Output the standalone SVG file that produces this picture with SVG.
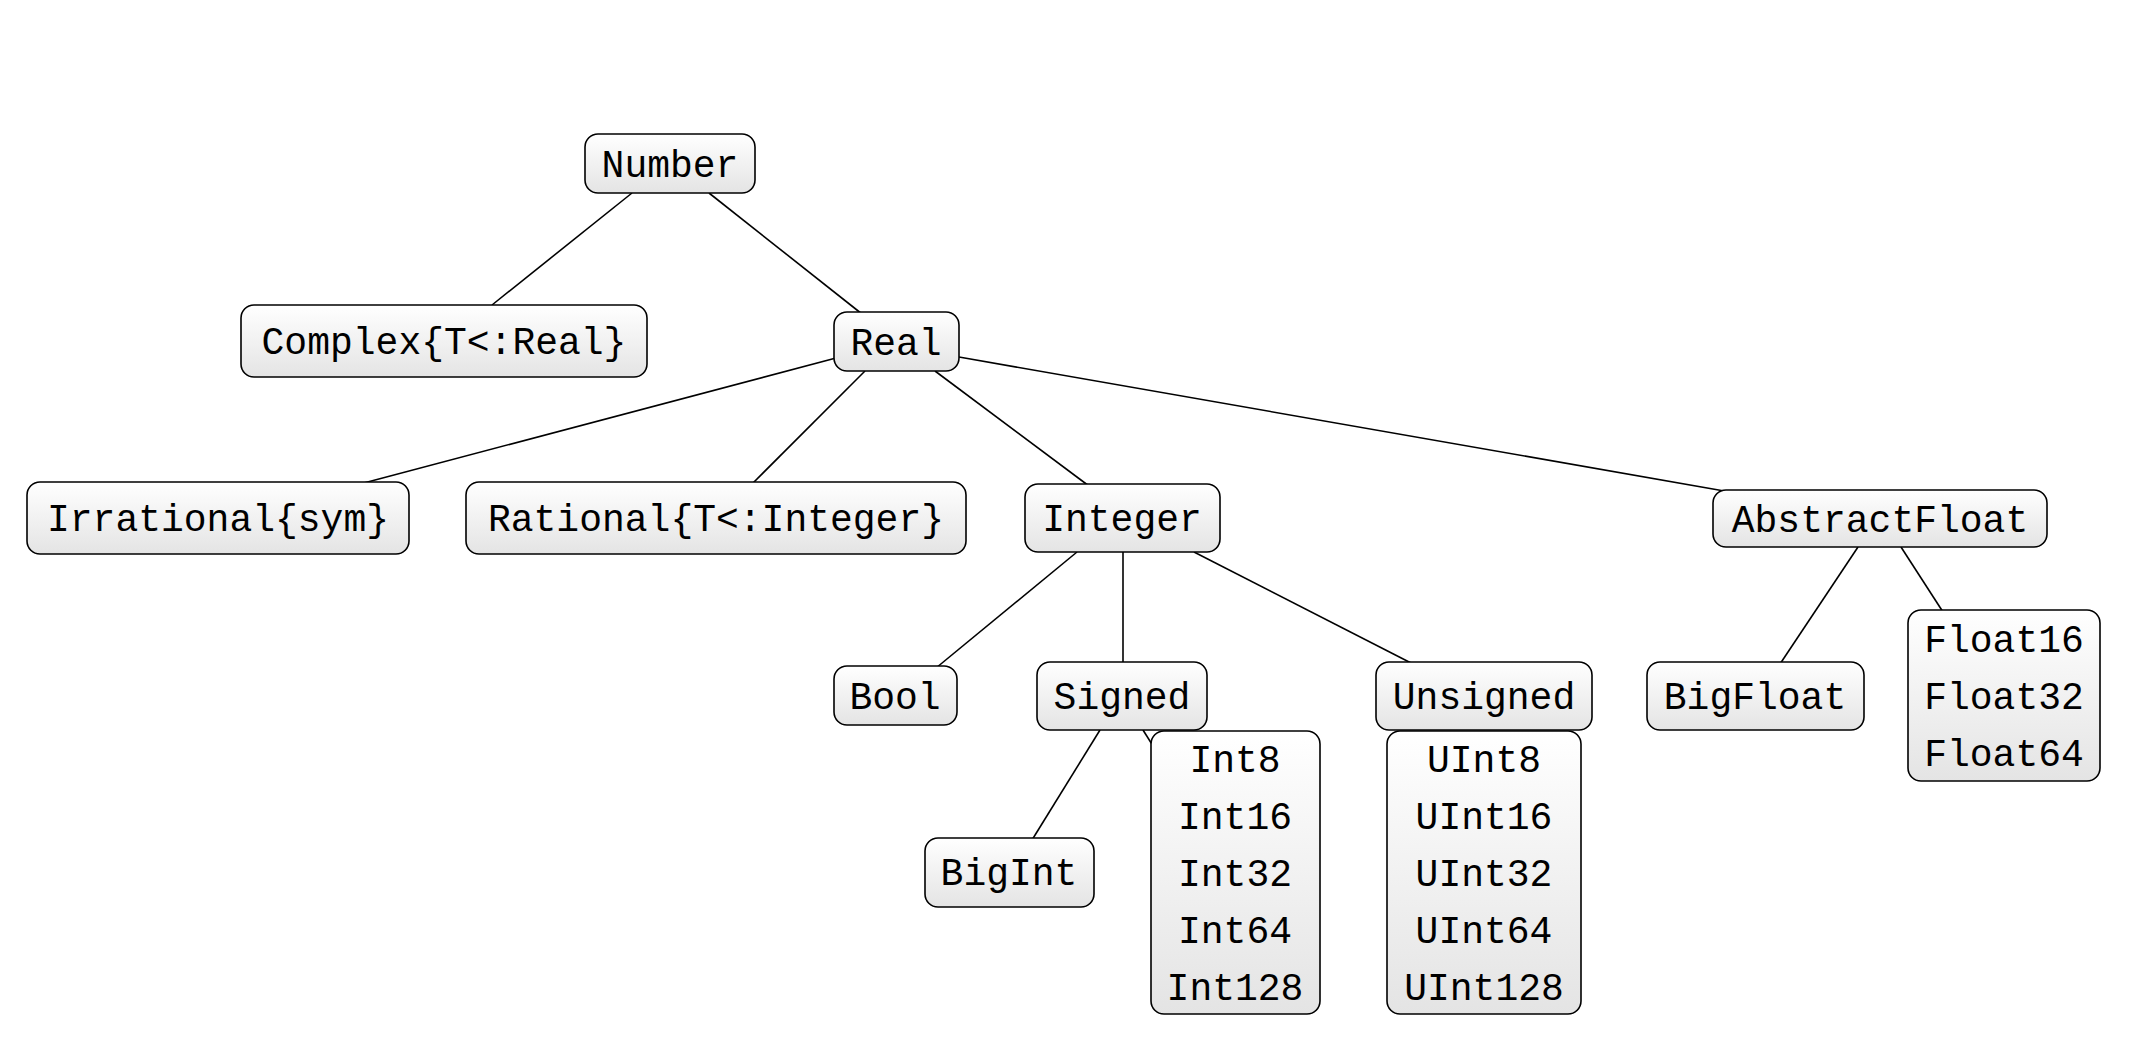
<svg xmlns="http://www.w3.org/2000/svg" width="2148" height="1042" viewBox="0 0 2148 1042">
<defs>
<linearGradient id="g" x1="0" y1="0" x2="0" y2="1"><stop offset="0" stop-color="#ffffff"/><stop offset="1" stop-color="#e4e4e4"/></linearGradient>
<style>
rect{fill:url(#g);stroke:#000;stroke-width:1.6}
text{font-family:"Liberation Mono",monospace;font-size:38px;text-anchor:middle;fill:#000}
#edges line{stroke:#000;stroke-width:1.6}
</style>
</defs>
<rect width="2148" height="1042" style="fill:#fff;stroke:none"/>
<g id="edges">
<line x1="632" y1="193" x2="492" y2="305"/>
<line x1="709" y1="193" x2="862" y2="314"/>
<line x1="836" y1="358" x2="360" y2="484"/>
<line x1="865" y1="371" x2="752" y2="484"/>
<line x1="935" y1="371" x2="1089" y2="486"/>
<line x1="959" y1="357" x2="1730" y2="492"/>
<line x1="1077" y1="552" x2="936" y2="668"/>
<line x1="1123" y1="552" x2="1123" y2="664"/>
<line x1="1194" y1="552" x2="1413" y2="664"/>
<line x1="1858" y1="547" x2="1780" y2="664"/>
<line x1="1901" y1="547" x2="1943" y2="612"/>
<line x1="1100" y1="730" x2="1032" y2="840"/>
<line x1="1143" y1="730" x2="1165" y2="765"/>
</g>
<g id="Number"><rect x="585" y="134" width="170" height="59" rx="13"/><text x="670" y="177">Number</text></g>
<g id="Complex"><rect x="241" y="305" width="406" height="72" rx="13"/><text x="444" y="354">Complex{T&lt;:Real}</text></g>
<g id="Real"><rect x="834" y="312" width="125" height="59" rx="13"/><text x="896" y="355">Real</text></g>
<g id="Irrational"><rect x="27" y="482" width="382" height="72" rx="13"/><text x="218" y="531">Irrational{sym}</text></g>
<g id="Rational"><rect x="466" y="482" width="500" height="72" rx="13"/><text x="716" y="531">Rational{T&lt;:Integer}</text></g>
<g id="Integer"><rect x="1025" y="484" width="195" height="68" rx="13"/><text x="1122" y="531">Integer</text></g>
<g id="AbstractFloat"><rect x="1713" y="490" width="334" height="57" rx="13"/><text x="1880" y="532">AbstractFloat</text></g>
<g id="Bool"><rect x="834" y="666" width="123" height="59" rx="13"/><text x="895" y="709">Bool</text></g>
<g id="Signed"><rect x="1037" y="662" width="170" height="68" rx="13"/><text x="1122" y="709">Signed</text></g>
<g id="Unsigned"><rect x="1376" y="662" width="216" height="68" rx="13"/><text x="1484" y="709">Unsigned</text></g>
<g id="BigFloat"><rect x="1647" y="662" width="217" height="68" rx="13"/><text x="1755" y="709">BigFloat</text></g>
<g id="Floats"><rect x="1908" y="610" width="192" height="171" rx="13"/><text x="2004" y="652">Float16</text><text x="2004" y="709">Float32</text><text x="2004" y="766">Float64</text></g>
<g id="BigInt"><rect x="925" y="838" width="169" height="69" rx="13"/><text x="1009" y="885">BigInt</text></g>
<g id="Ints"><rect x="1151" y="731" width="169" height="283" rx="13"/><text x="1235" y="772">Int8</text><text x="1235" y="829">Int16</text><text x="1235" y="886">Int32</text><text x="1235" y="943">Int64</text><text x="1235" y="1000">Int128</text></g>
<g id="UInts"><rect x="1387" y="731" width="194" height="283" rx="13"/><text x="1484" y="772">UInt8</text><text x="1484" y="829">UInt16</text><text x="1484" y="886">UInt32</text><text x="1484" y="943">UInt64</text><text x="1484" y="1000">UInt128</text></g>
</svg>
